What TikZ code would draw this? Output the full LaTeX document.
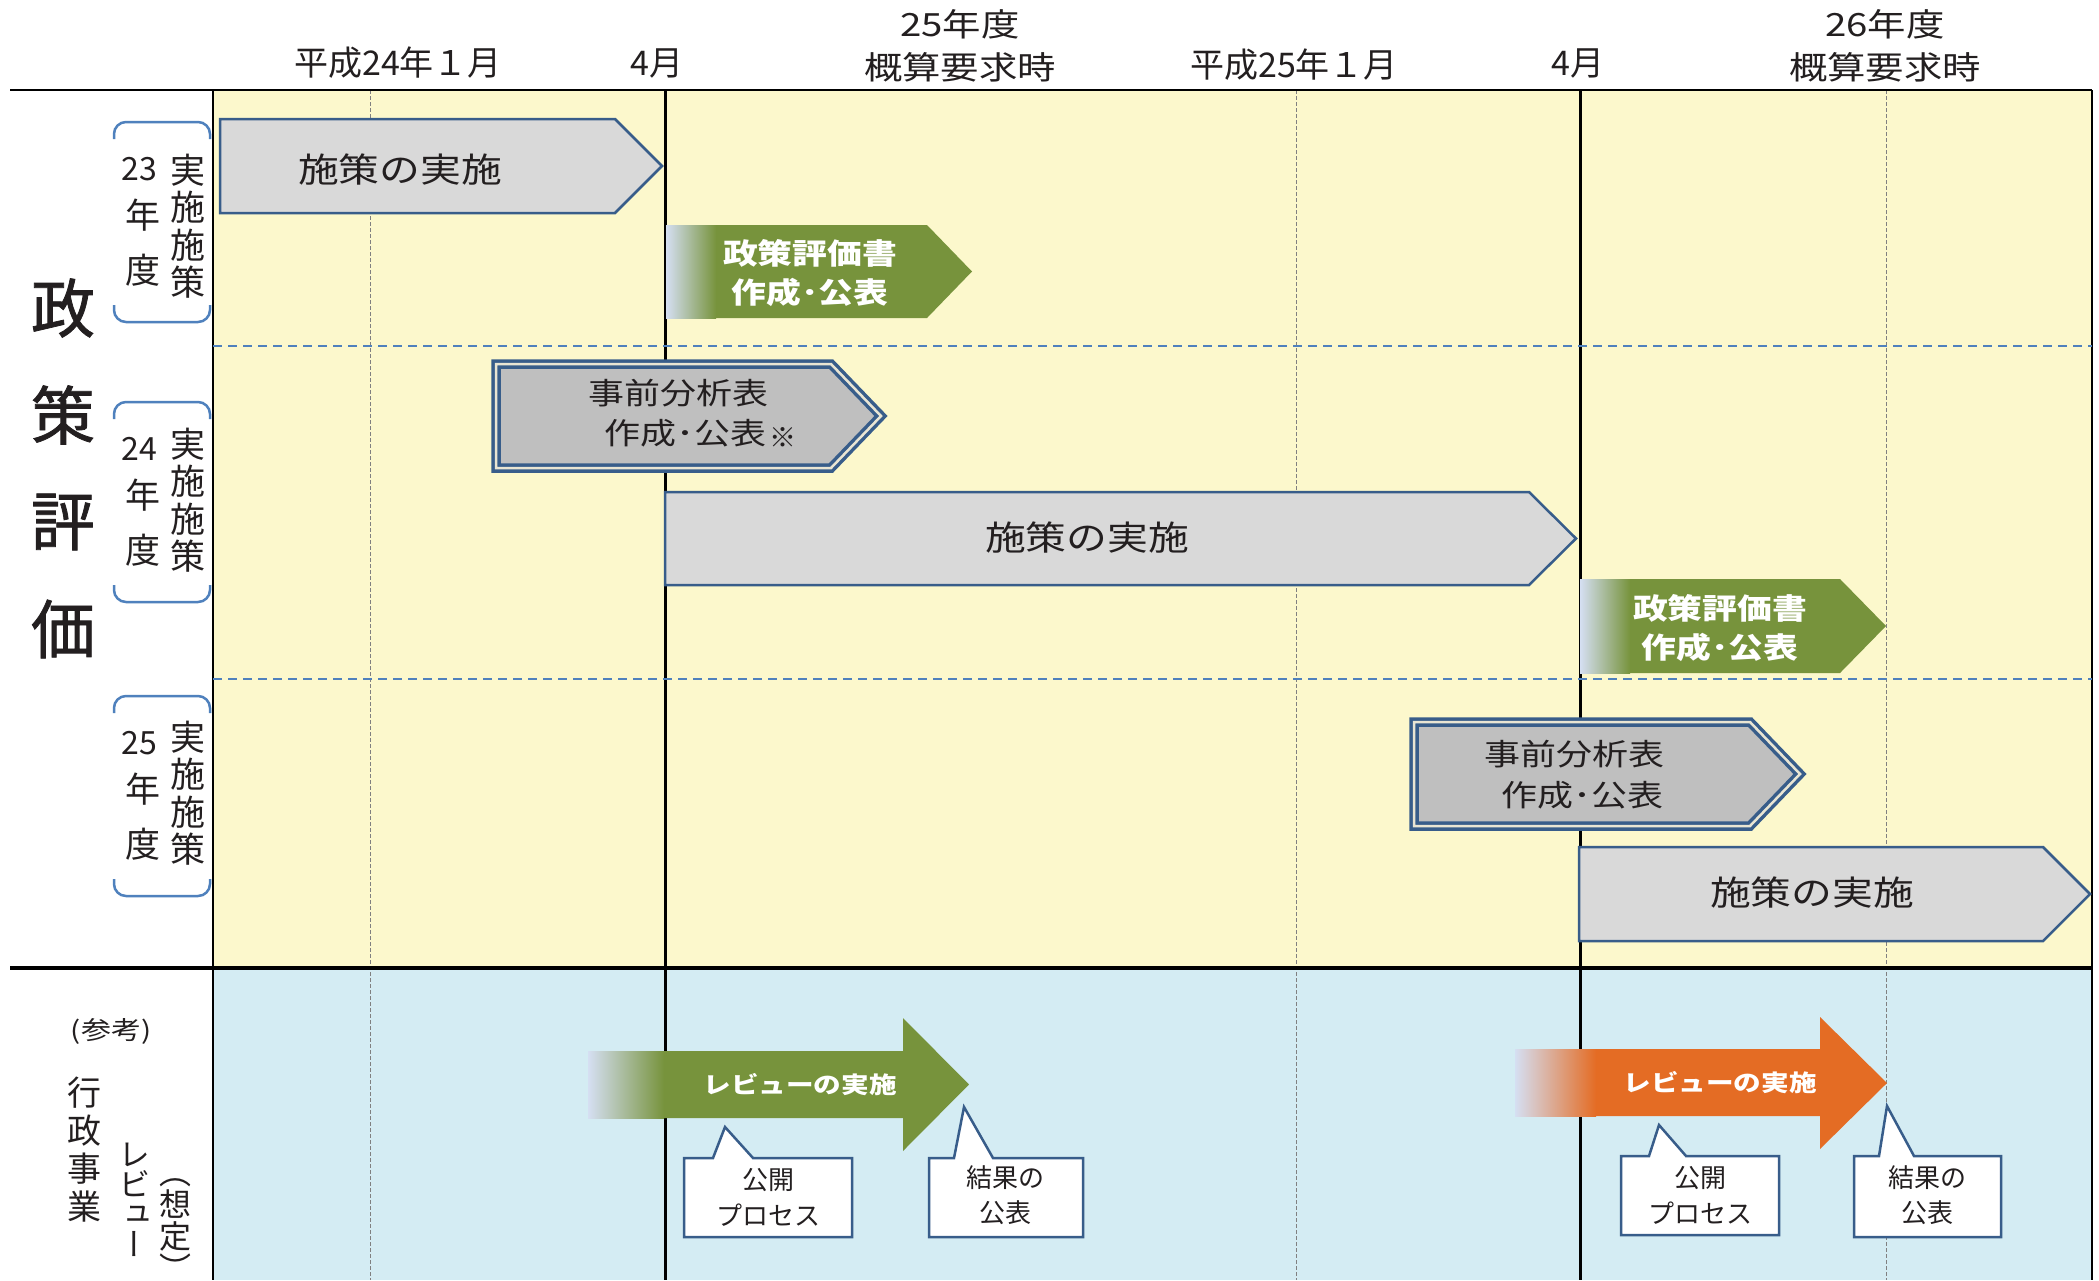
\documentclass[tikz,border=0pt]{standalone}
\usepackage{fontspec}
\setmainfont{Noto Sans CJK JP}
\newfontfamily\wjp[FakeStretch=1.2]{Noto Sans CJK JP}
\newfontfamily\vjp[RawFeature=+vert]{Noto Sans CJK JP}
\newfontfamily\bigjp[FakeBold=1.2]{Noto Sans CJK JP}
\lineskiplimit=-100pt
\definecolor{bgY}{HTML}{FCF8CC}
\definecolor{bgB}{HTML}{D4ECF3}
\definecolor{bdr}{HTML}{385D8A}
\definecolor{brk}{HTML}{4F81BD}
\definecolor{gfill}{HTML}{D9D9D9}
\definecolor{dfill}{HTML}{BFBFBF}
\definecolor{grn}{HTML}{77933C}
\definecolor{org}{HTML}{E46C24}
\definecolor{ltb}{HTML}{D5DFF2}
\definecolor{txt}{HTML}{231F20}
\definecolor{cream}{HTML}{E9E5D3}
\tikzset{
  t/.style={inner sep=0pt, text=txt},
  hdr/.style={t, font=\fontsize{17pt}{20pt}\selectfont},
  hdrw/.style={t, font=\wjp\fontsize{16pt}{21.5pt}\selectfont, align=center},
  bigv/.style={t, font=\bigjp\fontsize{32pt}{32pt}\selectfont},
  yrcol/.style={t, font=\fontsize{17.5pt}{18.75pt}\selectfont, align=center},
  yrnum/.style={t, font=\fontsize{16pt}{16pt}\selectfont},
  yrch/.style={t, font=\fontsize{17.5pt}{17.5pt}\selectfont},
  barT/.style={t, font=\wjp\fontsize{17pt}{17pt}\selectfont},
  dblT/.style={t, font=\wjp\fontsize{15pt}{15pt}\selectfont},
  grT/.style={inner sep=0pt, text=white, font=\wjp\bfseries\fontsize{14.5pt}{19.5pt}\selectfont, align=center},
  revT/.style={inner sep=0pt, text=white, font=\wjp\bfseries\fontsize{11.5pt}{11.5pt}\selectfont},
  callT/.style={t, font=\fontsize{13pt}{13pt}\selectfont},
  pent/.style={draw=bdr, line width=1.25pt, fill=gfill},
  dbl/.style={draw=bdr, line width=1.75pt, double=cream, double distance=1.25pt, fill=dfill},
  callout/.style={draw=bdr, line width=1.25pt, fill=white},
  brack/.style={draw=brk, line width=1.25pt, rounded corners=6pt},
  dotv/.style={draw=gray, line width=0.5pt, dash pattern=on 2pt off 1pt},
  solv/.style={draw=black, line width=1.5pt},
  dashh/.style={draw=brk, line width=1pt, dash pattern=on 4.5pt off 3pt},
}
\begin{document}
\begin{tikzpicture}[x=0.5pt,y=-0.5pt]
\useasboundingbox (0,0) rectangle (2099,1280);
\fill[white] (0,0) rectangle (2099,1280);
% backgrounds
\fill[bgY] (213,90) rectangle (2092,968);
\fill[bgB] (213,968) rectangle (2092,1280);
% grid lines
\draw[dotv] (370,90) -- (370,1280);
\draw[dotv] (1296,90) -- (1296,1280);
\draw[dotv] (1886,90) -- (1886,1280);
\draw[solv] (665,90) -- (665,1280);
\draw[solv] (1580,90) -- (1580,1280);
\draw[black, line width=1pt] (213,90) -- (213,1280);
\draw[black, line width=1pt] (2092,90) -- (2092,1280);
\draw[dashh] (213,346) -- (2092,346);
\draw[dashh] (213,679) -- (2092,679);
\draw[black, line width=1.25pt] (10,90) -- (2092,90);
\draw[black, line width=2pt] (10,968) -- (2092,968);

% headers
\node[hdr] (h1) at (398,63) {平成24年１月};
\node[hdr] (h2) at (657,63) {4月};
\node[hdrw] (h3) at (960,45.5) {25年度\\概算要求時};
\node[hdr] (h4) at (1294,65) {平成25年１月};
\node[hdr] (h5) at (1578,63) {4月};
\node[hdrw] (h6) at (1885,46) {26年度\\概算要求時};

% big vertical title
\node[bigv] (v1) at (63,308) {政};
\node[bigv] (v2) at (63,415) {策};
\node[bigv] (v3) at (63,522) {評};
\node[bigv] (v4) at (63,629) {価};

% brackets and year labels
\foreach \T/\N/\R in {122/23/226, 402/24/500, 696/25/793}{
  \draw[brack] (114,\T+17) -- (114,\T) -- (210,\T) -- (210,\T+17);
  \draw[brack] (114,\T+183) -- (114,\T+200) -- (210,\T+200) -- (210,\T+183);
  \node[yrnum] (yn\N) at (139,\T+47) {\N};
  \node[yrch] (yy\N) at (143,\T+93) {年};
  \node[yrch] (yd\N) at (143,\T+148) {度};
  \node[yrcol] (yc\N) at (188,\R) {実\\施\\施\\策};
}

% 23 row
\path[pent] (220,119) -- (615,119) -- (662,166) -- (615,213) -- (220,213) -- cycle;
\node[barT] (b1) at (400,170) {施策の実施};
\fill[grn] (666,225) -- (927,225) -- (972,271.5) -- (927,318) -- (666,318) -- cycle;
\shade[left color=ltb, right color=grn] (666,225) rectangle (716,318);
\node[grT] (g1) at (810,273.5) {政策評価書\\作成･公表};

% 24 row
\path[dbl] (496,364) -- (831,364) -- (881,416) -- (831,468) -- (496,468) -- cycle;
\node[dblT] (d1a) at (678,393) {事前分析表};
\node[dblT] (d1b) at (685,433) {作成･公表};
\node[t, font=\fontsize{13.5pt}{13.5pt}\selectfont] (d1c) at (783,438) {※};
\path[pent] (665,492) -- (1529,492) -- (1576,538.5) -- (1529,585) -- (665,585) -- cycle;
\node[barT] (b2) at (1087,538) {施策の実施};
\fill[grn] (1580,579) -- (1840,579) -- (1886,626) -- (1840,673) -- (1580,673) -- cycle;
\shade[left color=ltb, right color=grn] (1580,579) rectangle (1630,673);
\node[grT] (g2) at (1720,628.5) {政策評価書\\作成･公表};

% 25 row
\path[dbl] (1414,722) -- (1750,722) -- (1800,774) -- (1750,826) -- (1414,826) -- cycle;
\node[dblT] (d2a) at (1574,754) {事前分析表};
\node[dblT] (d2b) at (1582,795) {作成･公表};
\path[pent] (1579,847) -- (2043,847) -- (2090,894) -- (2043,941) -- (1579,941) -- cycle;
\node[barT] (b3) at (1812,893) {施策の実施};

% lower section labels
\node[t, font=\wjp\fontsize{12.5pt}{12.5pt}\selectfont] (ref) at (111,1031) {(参考)};
\node[t, font=\fontsize{17pt}{19pt}\selectfont, align=center] (gy) at (84,1150) {行\\政\\事\\業};
\node[t, font=\vjp\fontsize{16pt}{15pt}\selectfont, align=center] (rv) at (134,1200) {レ\\ビ\\ュ\\ー};
\node[t, font=\vjp\fontsize{16pt}{16pt}\selectfont, align=center] (st) at (175,1230) {（\\想\\定\\）};

% review arrows
\fill[grn] (588,1051) -- (903,1051) -- (903,1018) -- (969,1084.5) -- (903,1151) -- (903,1118) -- (588,1118) -- cycle;
\shade[left color=ltb, right color=grn] (588,1051) rectangle (664,1118);
\node[revT] (r1) at (800,1085) {レビューの実施};
\fill[org] (1515,1049) -- (1820,1049) -- (1820,1017) -- (1887,1083) -- (1820,1149) -- (1820,1116) -- (1515,1116) -- cycle;
\shade[left color=ltb, right color=org] (1515,1049) rectangle (1596,1116);
\node[revT] (r2) at (1720,1083) {レビューの実施};

% callouts
\path[callout] (684,1237) -- (684,1158) -- (713,1158) -- (725,1127) -- (753,1158) -- (852,1158) -- (852,1237) -- cycle;
\node[callT] (c1a) at (768,1180) {公開};
\node[callT] (c1b) at (768,1215) {プロセス};
\path[callout] (929,1237) -- (929,1158) -- (954,1158) -- (964,1107) -- (993,1158) -- (1083,1158) -- (1083,1237) -- cycle;
\node[callT] (c2a) at (1005,1178) {結果の};
\node[callT] (c2b) at (1005,1213) {公表};
\path[callout] (1621,1235) -- (1621,1156) -- (1649,1156) -- (1659,1125) -- (1686,1156) -- (1779,1156) -- (1779,1235) -- cycle;
\node[callT] (c3a) at (1700,1178) {公開};
\node[callT] (c3b) at (1700,1213) {プロセス};
\path[callout] (1854,1237) -- (1854,1156) -- (1879,1156) -- (1887,1106) -- (1914,1156) -- (2001,1156) -- (2001,1237) -- cycle;
\node[callT] (c4a) at (1927,1178) {結果の};
\node[callT] (c4b) at (1927,1213) {公表};
\end{tikzpicture}
\end{document}
